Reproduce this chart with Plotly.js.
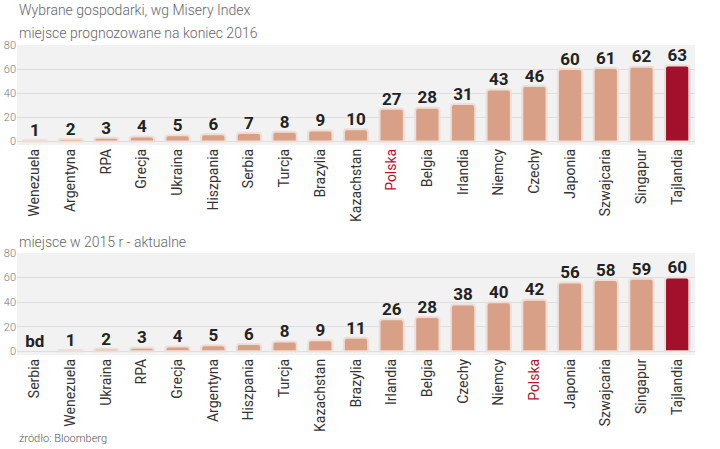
<!DOCTYPE html>
<html>
<head>
<meta charset="utf-8">
<script src="https://cdn.plot.ly/plotly-3.0.1.min.js"></script>
<style>html,body{margin:0;padding:0;background:#fff}#chart{width:720px;height:449px}</style>
</head>
<body>
<div id="chart"></div>
<script>
// --- data ---
const cats2016 = ['Wenezuela','Argentyna','RPA','Grecja','Ukraina','Hiszpania','Serbia','Turcja','Brazylia','Kazachstan','Polska','Belgia','Irlandia','Niemcy','Czechy','Japonia','Szwajcaria','Singapur','Tajlandia'];
const vals2016 = [1,2,3,4,5,6,7,8,9,10,27,28,31,43,46,60,61,62,63];
const labels2016 = ['1','2','3','4','5','6','7','8','9','10','27','28','31','43','46','60','61','62','63'];

const cats2015 = ['Serbia','Wenezuela','Ukraina','RPA','Grecja','Argentyna','Hiszpania','Turcja','Kazachstan','Brazylia','Irlandia','Belgia','Czechy','Niemcy','Polska','Japonia','Szwajcaria','Singapur','Tajlandia'];
const vals2015 = [null,1,2,3,4,5,6,8,9,11,26,28,38,40,42,56,58,59,60];
const labels2015 = ['bd','1','2','3','4','5','6','8','9','11','26','28','38','40','42','56','58','59','60'];

const yTicks = [0,20,40,60,80];

const titleMain = 'Wybrane gospodarki, wg Misery Index';
const sub2016 = 'miejsce prognozowane na koniec 2016';
const sub2015 = 'miejsce w 2015 r - aktualne';
const source = 'źródło: Bloomberg';

// --- styles ---
const SALMON = '#d9a088';
const DARK = '#a3102b';
const POLAND = '#b3132f';
const HIGHLIGHT = 'Tajlandia';
const HOME = 'Polska';
const FONT = 'Roboto, "Open Sans", sans-serif';

function colors(cats){ return cats.map(c => c === HIGHLIGHT ? DARK : SALMON); }
function tickText(cats){ return cats.map(c => c === HOME ? '<span style="color:'+POLAND+'">'+c+'</span>' : c); }

const W = 720, H = 449, L = 17, R = 25;
function py(p){ return 1 - p / H; }

function barTrace(cats, vals, xa, ya){
  return {
    type:'bar', x: cats, y: vals.map(v => v === null ? 0 : v), xaxis: xa, yaxis: ya,
    marker:{color: colors(cats), line:{color: vals.map(v => v === null ? 'rgba(0,0,0,0)' : 'rgba(238,222,216,1)'), width:2}},
    hoverinfo:'none', showlegend:false
  };
}
function textTrace(cats, vals, labels, xa, ya){
  return {
    type:'scatter', mode:'text', x: cats, y: vals.map(v => v === null ? 0 : v), text: labels,
    xaxis: xa, yaxis: ya, textposition:'top center', cliponaxis:false,
    textfont:{family: FONT, size:17, color:'#222', weight:700},
    hoverinfo:'none', showlegend:false
  };
}

const data = [
  barTrace(cats2016, vals2016, 'x', 'y'),
  textTrace(cats2016, vals2016, labels2016, 'x', 'y'),
  barTrace(cats2015, vals2015, 'x2', 'y2'),
  textTrace(cats2015, vals2015, labels2015, 'x2', 'y2')
];

const xCommon = {
  type:'category', range:[-0.5,18.5], showgrid:false, zeroline:false, showline:false, ticks:'', tickangle:-90,
  tickfont:{family: FONT, size:14, color:'#333'}, automargin:false, fixedrange:true
};
const yCommon = {
  range:[-3,80], tickvals: yTicks, ticktext: yTicks.map(String), showgrid:true, gridcolor:'#dedede', gridwidth:1,
  zeroline:false, showline:false, ticks:'', tickfont:{family: FONT, size:11, color:'#777', weight:300},
  automargin:false, fixedrange:true
};
const annFont = {family: FONT, size:14, color:'#666', weight:300};

const layout = {
  width: W, height: H,
  margin:{l:L, r:R, t:0, b:0},
  paper_bgcolor:'#fff', plot_bgcolor:'#f2f2f2',
  bargap:0.32,
  barcornerradius:3,
  xaxis: Object.assign({}, xCommon, {anchor:'y', categoryarray: cats2016, tickvals: cats2016, ticktext: tickText(cats2016)}),
  yaxis: Object.assign({}, yCommon, {domain:[py(145), py(45)], anchor:'x'}),
  xaxis2: Object.assign({}, xCommon, {anchor:'y2', categoryarray: cats2015, tickvals: cats2015, ticktext: tickText(cats2015)}),
  yaxis2: Object.assign({}, yCommon, {domain:[py(355), py(253)], anchor:'x2'}),
  annotations:[
    {text:titleMain, xref:'paper', yref:'paper', x:0, y:py(10), xanchor:'left', yanchor:'middle', showarrow:false, font:annFont},
    {text:sub2016, xref:'paper', yref:'paper', x:0, y:py(33), xanchor:'left', yanchor:'middle', showarrow:false, font:annFont},
    {text:sub2015, xref:'paper', yref:'paper', x:0, y:py(242), xanchor:'left', yanchor:'middle', showarrow:false, font:annFont},
    {text:source, xref:'paper', yref:'paper', x:0, y:py(438), xanchor:'left', yanchor:'middle', showarrow:false,
     font:{family: FONT, size:11, color:'#555', weight:300}}
  ]
};

Plotly.newPlot('chart', data, layout, {staticPlot:true, displayModeBar:false});
</script>
</body>
</html>
